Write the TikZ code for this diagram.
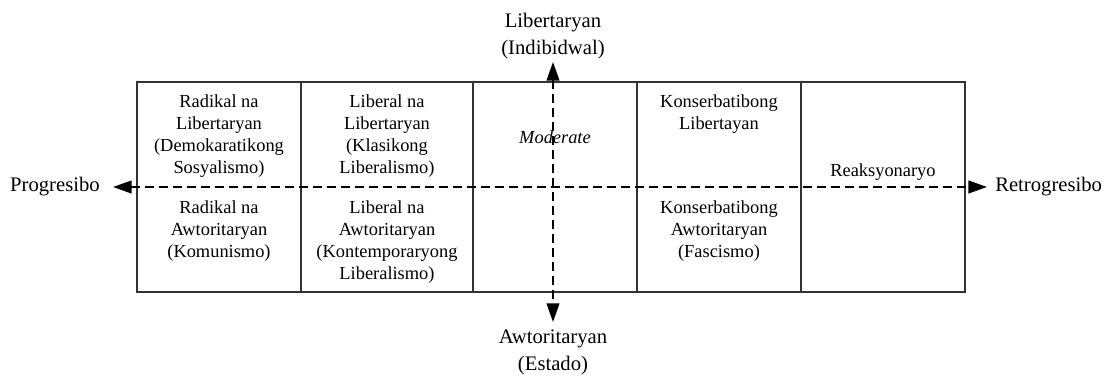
\documentclass[tikz,border=0pt]{standalone}
\usepackage{fontspec}
\setmainfont{Liberation Serif}
\usetikzlibrary{arrows.meta,positioning}

\begin{document}
\begin{tikzpicture}[%
    x=0.75pt, y=-0.75pt,
    >={Triangle[length=14pt,width=9.5pt]},
    grid/.style={draw=black!80, line width=0.8pt},
    axis/.style={<->, dash pattern=on 7pt off 3.5pt, line width=1.6pt},
    cell/.style={anchor=north, align=center, inner sep=0pt,
                 font=\fontsize{13.8}{16.5}\selectfont},
    axislabel/.style={align=center, inner sep=0pt,
                      font=\fontsize{15.5}{20.25}\selectfont}
  ]
    \useasboundingbox (0,0) rectangle (1111,377);

    % quadrant grid
    \draw[grid] (137,82) rectangle (965,292);
    \foreach \x in {301,473,637,801}
      \draw[grid] (\x,82) -- (\x,292);

    % axis ends
    \coordinate (ltip) at (113,187);
    \coordinate (rtip) at (987,187);
    \coordinate (ttip) at (553,62);
    \coordinate (btip) at (553,322);

    \node[axislabel, left=9.75pt of ltip]  (prog)  {Progresibo};
    \node[axislabel, right=6pt of rtip]    (retro) {Retrogresibo};
    \node[axislabel, above=2pt of ttip]    (lib)   {Libertaryan\\(Indibidwal)};
    \node[axislabel, below=6pt of btip]    (awt)   {Awtoritaryan\\(Estado)};

    % upper row
    \node[cell] (radlib) at (219,94) {Radikal na\\Libertaryan\\(Demokaratikong\\Sosyalismo)};
    \node[cell] (liblib) at (387,94) {Liberal na\\Libertaryan\\(Klasikong\\Liberalismo)};
    \node[cell, anchor=center] (mod) at (555,137) {\itshape Moderate};
    \node[cell] (konlib) at (719,94) {Konserbatibong\\Libertayan};
    \node[cell, anchor=center] (reak) at (883,172) {Reaksyonaryo};

    % lower row
    \node[cell] (radawt) at (219,200) {Radikal na\\Awtoritaryan\\(Komunismo)};
    \node[cell] (libawt) at (387,200) {Liberal na\\Awtoritaryan\\(Kontemporaryong\\Liberalismo)};
    \node[cell] (konawt) at (719,200) {Konserbatibong\\Awtoritaryan\\(Fascismo)};

    % axes
    \draw[axis] (ltip) -- (rtip);
    \draw[axis] (ttip) -- (btip);
\end{tikzpicture}
\end{document}
